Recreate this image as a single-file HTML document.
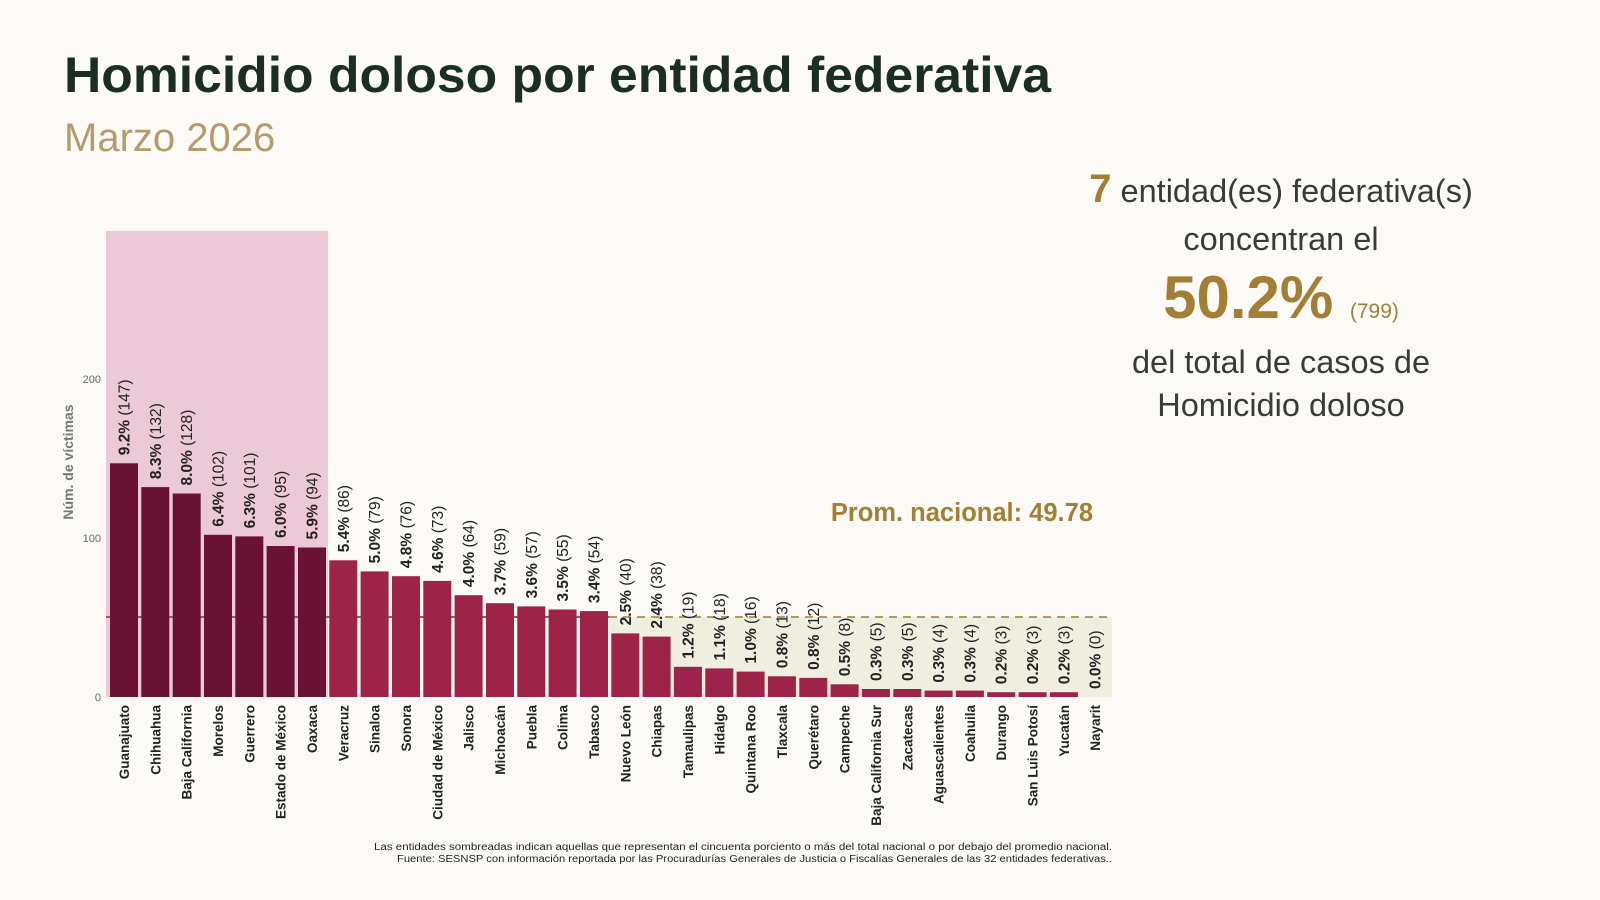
<!DOCTYPE html>
<html><head><meta charset="utf-8"><style>
body{margin:0;width:1600px;height:900px;background:#fbfaf7;overflow:hidden}
svg{display:block}
</style></head><body>
<svg width="1600" height="900" xmlns="http://www.w3.org/2000/svg" font-family="Liberation Sans, DejaVu Sans, sans-serif">
<rect width="1600" height="900" fill="#fbfaf7"/>
<text x="64" y="92" font-size="50" font-weight="bold" fill="#1b2e26" textLength="987" lengthAdjust="spacingAndGlyphs">Homicidio doloso por entidad federativa</text>
<text x="64" y="151" font-size="40" fill="#b59a6c">Marzo 2026</text>
<g text-anchor="middle" fill="#3a3a3a">
<text x="1281" y="202" font-size="32.5"><tspan font-weight="bold" fill="#a37f36" font-size="40">7</tspan> entidad(es) federativa(s)</text>
<text x="1281" y="250" font-size="32.5">concentran el</text>
<text x="1281" y="318" font-size="60" font-weight="bold" fill="#a37f36">50.2% <tspan font-size="21" font-weight="normal">(799)</tspan></text>
<text x="1281" y="373" font-size="32.5">del total de casos de</text>
<text x="1281" y="416" font-size="32.5">Homicidio doloso</text>
</g>
<rect x="106" y="231" width="222" height="466" fill="#ecc9d7"/>
<rect x="609" y="617" width="503" height="80" fill="#efeedf"/>
<line x1="106" y1="617" x2="609" y2="617" stroke="#a0565c" stroke-width="2"/>
<line x1="609" y1="617" x2="1112" y2="617" stroke="#b8995a" stroke-width="2" stroke-dasharray="8,6"/>
<text x="1093" y="521" font-size="25.5" font-weight="bold" fill="#a37f36" text-anchor="end">Prom. nacional: 49.78</text>
<g font-size="11" fill="#666" text-anchor="end">
<text x="101" y="383">200</text><text x="101" y="542">100</text><text x="101" y="701">0</text>
</g>
<text transform="translate(73,462) rotate(-90)" font-size="14" font-weight="bold" fill="#777" text-anchor="middle">Núm. de víctimas</text>
<g id="bars"></g>
<g font-size="10" fill="#222">
<text x="374" y="850" textLength="738" lengthAdjust="spacingAndGlyphs">Las entidades sombreadas indican aquellas que representan el cincuenta porciento o más del total nacional o por debajo del promedio nacional.</text>
<text x="397" y="862" textLength="715" lengthAdjust="spacingAndGlyphs">Fuente: SESNSP con información reportada por las Procuradurías Generales de Justicia o Fiscalías Generales de las 32 entidades federativas..</text>
</g>
</svg>
<script>
var d=[["Guanajuato",147,"9.2%"],["Chihuahua",132,"8.3%"],["Baja California",128,"8.0%"],["Morelos",102,"6.4%"],["Guerrero",101,"6.3%"],["Estado de México",95,"6.0%"],["Oaxaca",94,"5.9%"],["Veracruz",86,"5.4%"],["Sinaloa",79,"5.0%"],["Sonora",76,"4.8%"],["Ciudad de México",73,"4.6%"],["Jalisco",64,"4.0%"],["Michoacán",59,"3.7%"],["Puebla",57,"3.6%"],["Colima",55,"3.5%"],["Tabasco",54,"3.4%"],["Nuevo León",40,"2.5%"],["Chiapas",38,"2.4%"],["Tamaulipas",19,"1.2%"],["Hidalgo",18,"1.1%"],["Quintana Roo",16,"1.0%"],["Tlaxcala",13,"0.8%"],["Querétaro",12,"0.8%"],["Campeche",8,"0.5%"],["Baja California Sur",5,"0.3%"],["Zacatecas",5,"0.3%"],["Aguascalientes",4,"0.3%"],["Coahuila",4,"0.3%"],["Durango",3,"0.2%"],["San Luis Potosí",3,"0.2%"],["Yucatán",3,"0.2%"],["Nayarit",0,"0.0%"]];
var s="";
d.forEach(function(e,i){var x=110+i*31.33,h=e[1]*1.59,t=697-h,cx=x+14;
s+='<rect x="'+x.toFixed(1)+'" y="'+t.toFixed(1)+'" width="28" height="'+h.toFixed(1)+'" fill="'+(i<7?'#6a1233':'#9d2348')+'"/>';
s+='<text transform="translate('+(cx+5.5).toFixed(1)+','+(t-8).toFixed(1)+') rotate(-90)" font-size="15.5" fill="#222"><tspan font-weight="bold">'+e[2]+'</tspan> ('+e[1]+')</text>';
s+='<text transform="translate('+(cx+5).toFixed(1)+',705) rotate(-90)" font-size="13.5" font-weight="bold" fill="#222" text-anchor="end">'+e[0]+'</text>';});
document.getElementById("bars").innerHTML=s;
</script>
</body></html>
